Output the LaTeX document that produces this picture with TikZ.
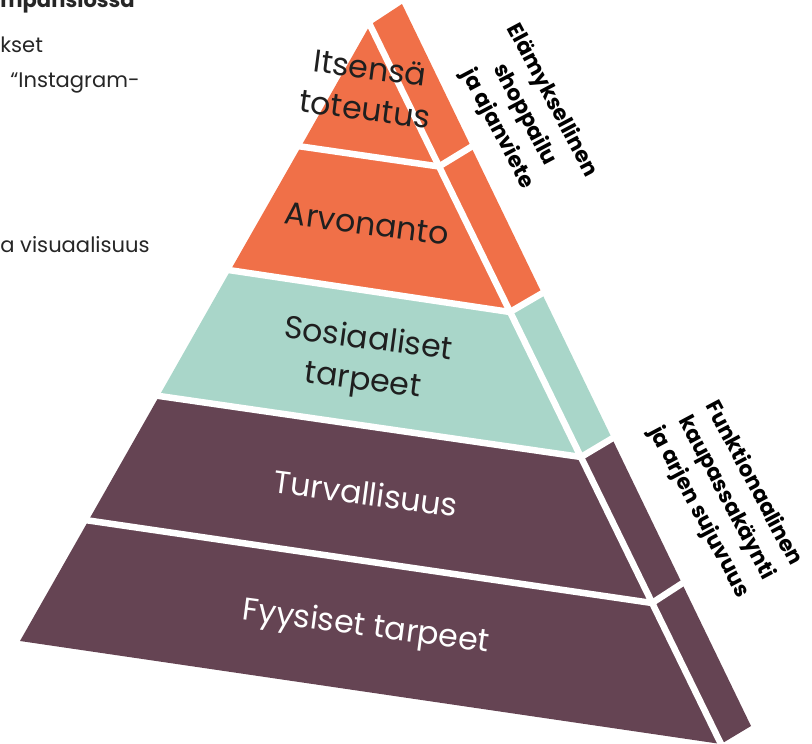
\documentclass[tikz,border=0pt]{standalone}
\usepackage{fontspec}
\setmainfont{Poppins}
\usepackage{tikz}
\definecolor{orange}{HTML}{F07048}
\definecolor{mint}{HTML}{A9D6C9}
\definecolor{plum}{HTML}{654453}
\tikzset{
  gap/.style={white, line width=3.7pt, shorten <=-6pt, shorten >=-6pt},
  level/.style={font=\fontsize{18}{23.5}\selectfont, text=black!88, align=center, rotate=-7.5, inner sep=0pt},
  sidelabel/.style={font=\bfseries\fontsize{12.3}{17.5}\selectfont, align=center, rotate=-62, inner sep=0pt},
  slidetext/.style={font=\fontsize{12}{16}\selectfont, text=black!85, anchor=base west, inner sep=0pt}
}
\begin{document}
\begin{tikzpicture}[x=0.02cm, y=-0.02cm]
\clip (0,0) rectangle (812,744);

\coordinate (Q0) at (370,25);
\coordinate (P1) at (301,146.5);
\coordinate (P2) at (230.5,270.3);
\coordinate (P3) at (159.2,396);
\coordinate (P4) at (88.5,520.5);
\coordinate (P5) at (20,641);
\coordinate (Q1) at (439,166.5);
\coordinate (Q2) at (510,312);
\coordinate (Q3) at (581,457);
\coordinate (Q4) at (652,603);
\coordinate (Q5) at (721,744);
\coordinate (T0) at (402,4);
\coordinate (T1) at (471.1,146.9);
\coordinate (T2) at (541.9,293.4);
\coordinate (T3) at (612,438.5);
\coordinate (T4) at (682,583.5);
\coordinate (T5) at (751,726);

\fill[orange] (Q0) -- (Q1) -- (P1) -- cycle;
\fill[orange] (P1) -- (Q1) -- (Q2) -- (P2) -- cycle;
\fill[mint] (P2) -- (Q2) -- (Q3) -- (P3) -- cycle;
\fill[plum] (P3) -- (Q3) -- (Q4) -- (P4) -- cycle;
\fill[plum] (P4) -- (Q4) -- (Q5) -- (P5) -- cycle;

\fill[orange] (Q0) -- (T0) -- (T1) -- (Q1) -- cycle;
\fill[orange] (Q1) -- (T1) -- (T2) -- (Q2) -- cycle;
\fill[mint] (Q2) -- (T2) -- (T3) -- (Q3) -- cycle;
\fill[plum] (Q3) -- (T3) -- (T4) -- (Q4) -- cycle;
\fill[plum] (Q4) -- (T4) -- (T5) -- (Q5) -- cycle;

\draw[gap] (Q0) -- (Q5);
\draw[gap] (P1) -- (Q1) -- (T1);
\draw[gap] (P2) -- (Q2) -- (T2);
\draw[gap] (P3) -- (Q3) -- (T3);
\draw[gap] (P4) -- (Q4) -- (T4);

\node[level] (itsensa) at (367.5,88.5) {Itsensä\\toteutus};
\node[level] (arvonanto) at (367,224) {Arvonanto};
\node[level] (sosiaaliset) at (365.5,361.5) {Sosiaaliset\\tarpeet};
\node[level, text=white] (turvallisuus) at (366,493) {Turvallisuus};
\node[level, text=white] (fyysiset) at (366,628) {Fyysiset tarpeet};

\node[sidelabel] (elamys) at (524.5,114.75) {Elämyksellinen\\shoppailu\\ja ajanviete};
\node[sidelabel] (funktio) at (726,498) {Funktionaalinen\\kaupassakäynti\\ja arjen sujuvuus};

\node[slidetext, font=\bfseries\fontsize{12}{16}\selectfont] (otsikko) at (0,7) {mpansiossa};
\node[slidetext] (rivi1) at (0,52) {kset};
\node[slidetext] (rivi2) at (10,87) {“Instagram-};
\node[slidetext] (rivi3) at (0,252) {a visuaalisuus};
\end{tikzpicture}
\end{document}
